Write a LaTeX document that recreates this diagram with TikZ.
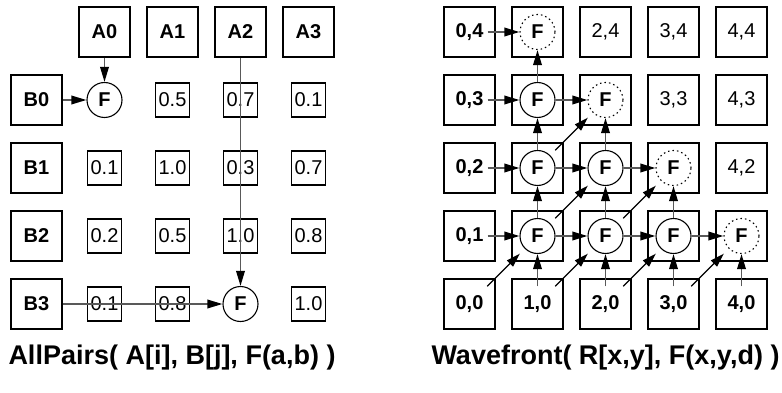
\documentclass[tikz,border=0pt]{standalone}
\usepackage{fontspec}
\setmainfont{Liberation Sans}
\usetikzlibrary{arrows.meta}
\begin{document}
\begin{tikzpicture}[x=1pt,y=-1pt,
    bigbox/.style={draw,line width=1.3pt,minimum width=51pt,minimum height=50pt,inner sep=0pt,font=\fontsize{20}{22}\selectfont\bfseries},
    valbox/.style={draw,line width=1.1pt,minimum size=34pt,inner sep=0pt,font=\fontsize{20}{22}\selectfont},
    lbl/.style={inner xsep=4pt,inner ysep=9pt,font=\fontsize{20}{22}\selectfont\bfseries},
    plainlbl/.style={lbl,font=\fontsize{20}{22}\selectfont},
    fcirc/.style={circle,draw,line width=1.1pt,minimum size=35pt,inner sep=0pt,font=\fontsize{20}{22}\selectfont\bfseries},
    fdash/.style={fcirc,dash pattern=on 1.5pt off 3pt},
    flow/.style={draw=black!65,line width=1.8pt,-{Triangle[length=15pt,width=8.5pt,color=black]}},
    diag/.style={line width=1.1pt,-{Triangle[length=14pt,width=8.5pt]},shorten <=25pt,shorten >=25pt},
    title/.style={font=\fontsize{27}{32}\selectfont\bfseries}]
  \useasboundingbox (0,0) rectangle (782,393);
  \foreach \i in {0,...,3} {
    \node[bigbox] (a\i) at (104.5+68*\i,32) {A\i};
    \node[bigbox] (b\i) at (36.5,100+68*\i) {B\i};
  }
  \foreach \r/\row in {0/{1/0.5,2/0.7,3/0.1},1/{0/0.1,1/1.0,2/0.3,3/0.7},2/{0/0.2,1/0.5,2/1.0,3/0.8},3/{0/0.1,1/0.8,3/1.0}}
    \foreach \c/\v in \row
      \node[valbox] (v\c\r) at (104.5+68*\c,100+68*\r) {\v};
  \node[fcirc] (fa) at (a0|-b0) {F};
  \node[fcirc] (fb) at (a2|-b3) {F};
  \draw[flow] (a0) -- (fa);
  \draw[flow] (b0) -- (fa);
  \draw[flow] (a2) -- (fb);
  \draw[flow] (b3) -- (fb);
  \node[title] (allpairs) at (172,358) {AllPairs( A[i], B[j], F(a,b) )};

  \foreach \i in {0,...,4}
    \foreach \j in {0,...,4}
      \node[bigbox] (r\i\j) at (469.5+68*\i,304-68*\j) {};
  \foreach \i in {0,...,4}
    \node[lbl] (t\i0) at (r\i0) {\i,0};
  \foreach \j in {1,...,4}
    \node[lbl] (t0\j) at (r0\j) {0,\j};
  \foreach \i/\j in {2/4,3/4,4/4,3/3,4/3,4/2}
    \node[plainlbl] (t\i\j) at (r\i\j) {\i,\j};
  \foreach \i/\j in {1/1,2/1,3/1,1/2,2/2,1/3}
    \node[fcirc] (f\i\j) at (r\i\j) {F};
  \foreach \i/\j in {4/1,3/2,2/3,1/4}
    \node[fdash] (f\i\j) at (r\i\j) {F};
  \foreach \j in {1,...,4}
    \draw[flow] (t0\j) -- (f1\j);
  \foreach \i in {1,...,4}
    \draw[flow] (t\i0) -- (f\i1);
  \foreach \a/\b in {11/21,21/31,31/41,12/22,22/32,13/23,11/12,12/13,13/14,21/22,22/23,31/32}
    \draw[flow] (f\a) -- (f\b);
  \foreach \a/\b in {00/11,10/21,20/31,30/41,11/22,21/32,12/23}
    \draw[diag] (r\a.center) -- (r\b.center);
  \node[title] (wavefront) at (605.5,358) {Wavefront( R[x,y], F(x,y,d) )};
\end{tikzpicture}
\end{document}
